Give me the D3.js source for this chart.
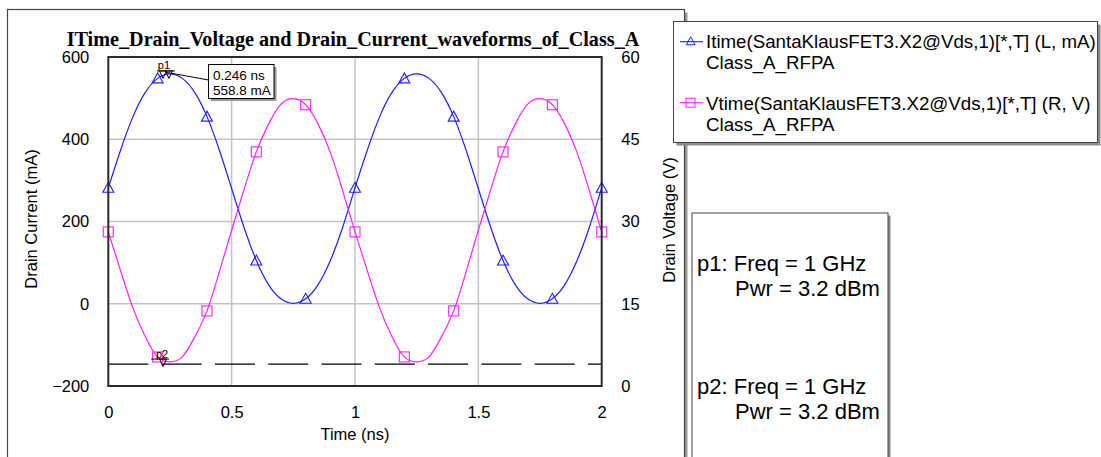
<!DOCTYPE html>
<html><head><meta charset="utf-8">
<script src="https://cdn.jsdelivr.net/npm/d3@7"></script>
<style>body{margin:0;background:#fff;} svg{display:block;font-family:"Liberation Sans",Arial,sans-serif;}</style>
</head><body><svg id="c" width="1101" height="457"></svg>
<script>
// ---- data ----
const timeNs = [0,0.05,0.1,0.15,0.2,0.25,0.3,0.35,0.4,0.45,0.5,0.55,0.6,0.65,0.7,0.75,0.8,0.85,0.9,0.95,
                1,1.05,1.1,1.15,1.2,1.25,1.3,1.35,1.4,1.45,1.5,1.55,1.6,1.65,1.7,1.75,1.8,1.85,1.9,1.95,2];
const drainCurrent = [282,374,455,514,548,559,548,514,455,374,280,186,105,46,12,1,12,46,105,186,
                      282,374,455,514,548,559,548,514,455,374,280,186,105,46,12,1,12,46,105,186,282];
const drainVoltage = [28.1,21.0,14.2,9.0,5.3,4.4,5.3,8.9,13.7,20.8,28.4,35.8,42.7,47.8,51.4,52.4,51.3,47.8,42.6,35.6,
                      28.1,21.0,14.2,9.0,5.3,4.4,5.3,8.9,13.7,20.8,28.4,35.8,42.7,47.8,51.4,52.4,51.3,47.8,42.6,35.6,28.1];
const xTicks = [0,0.5,1,1.5,2];
const xTickLabels = ["0","0.5","1","1.5","2"];
const yLeftTicks = [-200,0,200,400,600];
const yRightTicks = [0,15,30,45,60];
const markerNames = ["p1","p2"];
const markerTimes = [0.246,0.222];
const markerValues = [558.8,4.0];
const markerAxes = ["L","R"];
const lineMarkerValue = 4.0;
const readoutLines = ["0.246 ns","558.8 mA"];
const legendLabels = [["Itime(SantaKlausFET3.X2@Vds,1)[*,T] (L, mA)","Class_A_RFPA"],
                      ["Vtime(SantaKlausFET3.X2@Vds,1)[*,T] (R, V)","Class_A_RFPA"]];
const markerInfo = [["p1: Freq = 1 GHz","Pwr = 3.2 dBm"],["p2: Freq = 1 GHz","Pwr = 3.2 dBm"]];
const titleText = "ITime_Drain_Voltage and Drain_Current_waveforms_of_Class_A";
const xTitle = "Time (ns)", yLeftTitle = "Drain Current (mA)", yRightTitle = "Drain Voltage (V)";

// ---- layout ----
const svg = d3.select("#c");
const L = 108.3, R = 601.7, T = 57, B = 386;
const blue = "#1f1fff", mag = "#ff1fff";
const x = d3.scaleLinear().domain([0,2]).range([L,R]);
const yL = d3.scaleLinear().domain([-200,600]).range([B,T]);
const yR = d3.scaleLinear().domain([0,60]).range([B,T]);

// main frame
svg.append("rect").attr("x",10.5).attr("y",12.5).attr("width",677).attr("height",520).attr("fill","#9a9a9a");
svg.append("rect").attr("x",7.5).attr("y",9.5).attr("width",677).attr("height",520).attr("fill","#fff").attr("stroke","#444").attr("stroke-width",1.2);

// title
svg.append("text").attr("x",353).attr("y",46).attr("text-anchor","middle")
  .style("font-family","'Liberation Serif','Times New Roman',serif").style("font-weight","bold").style("font-size","20.2px")
  .text(titleText);

// grid
const g = svg.append("g");
g.selectAll(".vg").data(xTicks.filter(d=>d>0&&d<2)).join("line")
  .attr("x1",d=>x(d)).attr("x2",d=>x(d)).attr("y1",T).attr("y2",B).attr("stroke","#c4c4c4").attr("stroke-width",1.5);
g.selectAll(".hg").data(yLeftTicks.filter(d=>d>-200&&d<600)).join("line")
  .attr("y1",d=>yL(d)).attr("y2",d=>yL(d)).attr("x1",L).attr("x2",R).attr("stroke","#c4c4c4").attr("stroke-width",1.5);

// axes
const fs = "16.5px";
const ax1 = svg.append("g").attr("transform",`translate(${L},0)`)
  .call(d3.axisLeft(yL).tickValues(yLeftTicks).tickSize(0).tickPadding(19).tickFormat(d3.format("d")));
const ax2 = svg.append("g").attr("transform",`translate(${R},0)`)
  .call(d3.axisRight(yR).tickValues(yRightTicks).tickSize(0).tickPadding(19.5).tickFormat(d3.format("d")));
const ax3 = svg.append("g").attr("transform",`translate(0,${B})`)
  .call(d3.axisBottom(x).tickValues(xTicks).tickSize(0).tickPadding(20.5).tickFormat((d,i)=>xTickLabels[i]));
[ax1,ax2,ax3].forEach(a=>{a.select(".domain").remove();a.selectAll("text").style("font-size",fs).style("font-family","'Liberation Sans',Arial,sans-serif").attr("fill","#000");});

svg.append("text").attr("x",355).attr("y",440).attr("text-anchor","middle").style("font-size",fs).text(xTitle);
svg.append("text").attr("transform","translate(37,219) rotate(-90)").attr("text-anchor","middle").style("font-size",fs).text(yLeftTitle);
svg.append("text").attr("transform","translate(675,220) rotate(-90)").attr("text-anchor","middle").style("font-size",fs).text(yRightTitle);

// clip
svg.append("clipPath").attr("id","clip").append("rect").attr("x",L).attr("y",T).attr("width",R-L).attr("height",B-T);
const plot = svg.append("g").attr("clip-path","url(#clip)");

// marker horizontal line (p2 level)
plot.append("line").attr("x1",L).attr("x2",R).attr("y1",yR(lineMarkerValue)).attr("y2",yR(lineMarkerValue))
  .attr("stroke","#000").attr("stroke-width",1.2).attr("stroke-dasharray","40,13.3");

// curves
const lineI = d3.line().x((d,i)=>x(timeNs[i])).y(d=>yL(d)).curve(d3.curveNatural);
const lineV = d3.line().x((d,i)=>x(timeNs[i])).y(d=>yR(d)).curve(d3.curveNatural);
plot.append("path").datum(drainCurrent).attr("d",lineI).attr("fill","none").attr("stroke",blue).attr("stroke-width",1.2);
plot.append("path").datum(drainVoltage).attr("d",lineV).attr("fill","none").attr("stroke",mag).attr("stroke-width",1.2);

// symbols every 0.2 ns
const idx = timeNs.map((t,i)=>i).filter(i=>i%4===0);
const tri = (cx,cy,s)=>`M${cx},${cy-s*0.55}L${cx+s*0.55},${cy+s*0.45}L${cx-s*0.55},${cy+s*0.45}Z`;
svg.append("g").selectAll("path").data(idx).join("path")
  .attr("d",i=>tri(x(timeNs[i]),yL(drainCurrent[i]),10)).attr("fill","none").attr("stroke",blue).attr("stroke-width",1.1);
svg.append("g").selectAll("rect").data(idx).join("rect")
  .attr("x",i=>x(timeNs[i])-5).attr("y",i=>yR(drainVoltage[i])-5).attr("width",10).attr("height",10)
  .attr("fill","none").attr("stroke",mag).attr("stroke-width",1.1);

// plot border
svg.append("rect").attr("x",L).attr("y",T).attr("width",R-L).attr("height",B-T).attr("fill","none").attr("stroke","#2a2a2a").attr("stroke-width",2);

// p markers
markerNames.forEach((n,k)=>{
  const px = x(markerTimes[k]);
  const py = markerAxes[k]==="L" ? yL(markerValues[k]) : yR(markerValues[k]);
  const mg = svg.append("g");
  const top = k===0 ? py-3 : py-5;
  const offs = k===0 ? [-6,0] : [0];
  offs.forEach(o=>{
    mg.append("path").attr("d",`M${px+o-3.5},${top}L${px+o+3.5},${top}L${px+o},${top+7.5}Z`).attr("fill","none").attr("stroke","#000").attr("stroke-width",1);
  });
  mg.append("line").attr("x1",px-12).attr("x2",px+6).attr("y1",top).attr("y2",top).attr("stroke","#000").attr("stroke-width",1);
  mg.append("text").attr("x",px-(k===0?5:1)).attr("y",top-1.5).attr("text-anchor","middle").style("font-size","11px").text(n);
});

// readout box for p1
const bx = 208.5, by = 64.5, bw = 65.5, bh = 34;
svg.append("line").attr("x1",x(markerTimes[0])-2).attr("y1",yL(markerValues[0])-1.5).attr("x2",bx).attr("y2",80).attr("stroke","#000").attr("stroke-width",1);
svg.append("rect").attr("x",bx+2.5).attr("y",by+2.5).attr("width",bw).attr("height",bh).attr("fill","#999");
svg.append("rect").attr("x",bx).attr("y",by).attr("width",bw).attr("height",bh).attr("fill","#fff").attr("stroke","#000").attr("stroke-width",1);
readoutLines.forEach((t,i)=>svg.append("text").attr("x",bx+4.5).attr("y",by+15.5+i*15).style("font-size","13.5px").text(t));

// legend box
svg.append("rect").attr("x",676.5).attr("y",24.5).attr("width",424).attr("height",121).attr("fill","#8a8a8a");
svg.append("rect").attr("x",673.5).attr("y",21.5).attr("width",424).attr("height",121).attr("fill","#fff").attr("stroke","#444").attr("stroke-width",1);
const legY = [41.7,102.7];
[blue,mag].forEach((c,k)=>{
  svg.append("line").attr("x1",680).attr("x2",703).attr("y1",legY[k]).attr("y2",legY[k]).attr("stroke",c).attr("stroke-width",1.1);
  if(k===0) svg.append("path").attr("d",tri(690.7,legY[k]-0.5,8)).attr("fill","none").attr("stroke",c).attr("stroke-width",1);
  else svg.append("rect").attr("x",686).attr("y",legY[k]-4.5).attr("width",9).attr("height",9).attr("fill","none").attr("stroke",c).attr("stroke-width",1);
  legendLabels[k].forEach((t,j)=>svg.append("text").attr("x",706).attr("y",[47.5,68.5,110,131][k*2+j]).style("font-size","18.7px").text(t));
});

// marker info box
svg.append("rect").attr("x",694.5).attr("y",215.5).attr("width",196).attr("height",300).attr("fill","#8a8a8a");
svg.append("rect").attr("x",692).attr("y",213).attr("width",196).attr("height",300).attr("fill","#fff").attr("stroke","#444").attr("stroke-width",1);
const infoY = [[271,296],[394,419]];
markerInfo.forEach((ls,k)=>{
  svg.append("text").attr("x",697).attr("y",infoY[k][0]).style("font-size","22px").text(ls[0]);
  svg.append("text").attr("x",735).attr("y",infoY[k][1]).style("font-size","22px").text(ls[1]);
});
</script></body></html>
